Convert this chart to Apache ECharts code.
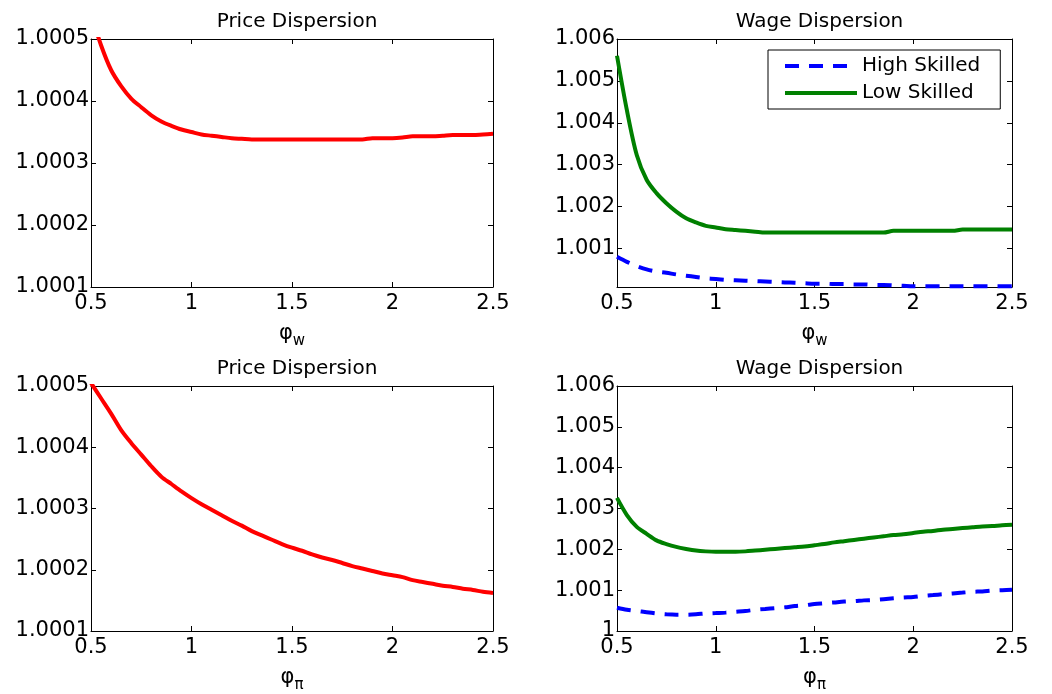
<!DOCTYPE html>
<html>
<head>
<meta charset="utf-8">
<script src="https://cdn.jsdelivr.net/npm/echarts@6/dist/echarts.min.js"></script>
<style>
html,body{margin:0;padding:0;background:#fff}
#main{width:1052px;height:694px}
</style>
</head>
<body>
<div id="main"></div>
<script>
var phi = [0.5,0.55,0.6,0.65,0.7,0.75,0.8,0.85,0.9,0.95,1,1.05,1.1,1.15,1.2,1.25,1.3,1.35,1.4,1.45,1.5,
	1.55,1.6,1.65,1.7,1.75,1.8,1.85,1.9,1.95,2,2.05,2.1,2.15,2.2,2.25,2.3,2.35,2.4,2.45,2.5];

// top row: against phi_w
var pricePhiW = [1.000540,1.000490,1.000450,1.000424,1.000404,1.000390,1.000377,1.000367,1.000360,1.000354,
	1.000350,1.000346,1.000344,1.000342,1.000340,1.000339,1.000338,1.000338,1.000338,1.000338,1.000338,
	1.000338,1.000338,1.000338,1.000338,1.000338,1.000338,1.000338,1.000340,1.000340,1.000340,1.000341,
	1.000343,1.000343,1.000343,1.000344,1.000345,1.000345,1.000345,1.000346,1.000347];
var highPhiW = [1.00080,1.00068,1.00058,1.00050,1.00045,1.00042,1.00038,1.00035,1.00032,1.00029,
	1.00027,1.00025,1.00024,1.00023,1.00022,1.00021,1.00020,1.00019,1.00018,1.00017,1.00016,
	1.00016,1.00015,1.00015,1.00014,1.00014,1.00013,1.00013,1.00012,1.00011,1.00010,1.00010,
	1.00010,1.00010,1.00010,1.00010,1.00010,1.00010,1.00010,1.00010,1.00010];
var lowPhiW = [1.00560,1.00430,1.00323,1.00264,1.00232,1.00208,1.00188,1.00172,1.00162,1.00154,
	1.00150,1.00146,1.00144,1.00142,1.00140,1.00138,1.00138,1.00138,1.00138,1.00138,1.00138,
	1.00138,1.00138,1.00138,1.00138,1.00138,1.00138,1.00138,1.00142,1.00142,1.00142,1.00142,
	1.00142,1.00142,1.00142,1.00145,1.00145,1.00145,1.00145,1.00145,1.00145];

// bottom row: against phi_pi
var pricePhiPi = [1.000505,1.000480,1.000455,1.000428,1.000407,1.000388,1.000369,1.000352,1.000340,1.000328,
	1.000317,1.000307,1.000298,1.000289,1.000280,1.000272,1.000263,1.000256,1.000249,1.000242,1.000236,
	1.000231,1.000225,1.000220,1.000216,1.000211,1.000206,1.000202,1.000198,1.000194,1.000191,1.000188,
	1.000183,1.000180,1.000177,1.000174,1.000172,1.000169,1.000167,1.000164,1.000162];
var highPhiPi = [1.00057,1.00052,1.00049,1.00046,1.00043,1.00041,1.00040,1.00040,1.00041,1.00043,
	1.00044,1.00045,1.00047,1.00049,1.00052,1.00054,1.00056,1.00058,1.00061,1.00063,1.00066,
	1.00068,1.00070,1.00072,1.00073,1.00075,1.00076,1.00078,1.00080,1.00082,1.00083,1.00086,
	1.00088,1.00090,1.00092,1.00094,1.00096,1.00097,1.00099,1.00100,1.00101];
var lowPhiPi = [1.00326,1.00284,1.00255,1.00238,1.00222,1.00213,1.00206,1.00201,1.00197,1.00195,
	1.00194,1.00194,1.00194,1.00195,1.00197,1.00199,1.00201,1.00203,1.00205,1.00207,1.00210,
	1.00213,1.00217,1.00220,1.00223,1.00226,1.00229,1.00232,1.00235,1.00237,1.00240,1.00243,
	1.00245,1.00248,1.00250,1.00252,1.00254,1.00256,1.00257,1.00259,1.00260];

var priceTicks = [1.0001,1.0002,1.0003,1.0004,1.0005];
var wageTicksTop = [1.001,1.002,1.003,1.004,1.005,1.006];
var wageTicksBottom = [1,1.001,1.002,1.003,1.004,1.005,1.006];

var font = 'DejaVu Sans';
var grids = [], xAxes = [], yAxes = [], titles = [], series = [];

function pairs(ys){
	return phi.map(function(x, i){ return [x, ys[i]]; });
}

function priceLabel(v){ return v.toFixed(4); }
function wageLabel(v){ return Math.abs(v - 1) < 1e-9 ? '1' : v.toFixed(3); }

function panel(i, left, top, width, height, title, yMin, yMax, yTicks, yFmt, sub){
	grids.push({left: left, top: top, width: width, height: height});
	titles.push({
		text: title, left: left + width / 2, top: top - 32, textAlign: 'center',
		textStyle: {fontFamily: font, fontSize: 20, fontWeight: 'normal', color: '#000'}
	});
	var line = {show: true, onZero: false, lineStyle: {color: '#000', width: 1}};
	var tick = {show: true, inside: true, length: 5, lineStyle: {color: '#000'}};
	xAxes.push({
		type: 'value', gridIndex: i, position: 'bottom', min: 0.5, max: 2.5, interval: 0.5,
		axisLine: line, axisTick: tick, splitLine: {show: false},
		axisLabel: {fontFamily: font, fontSize: 21, color: '#000', margin: 6},
		name: '{a|φ}{b|' + sub + '}', nameLocation: 'middle', nameGap: 32,
		nameTextStyle: {rich: {
			a: {fontFamily: font, fontSize: 21, lineHeight: 30, color: '#000'},
			b: {fontFamily: font, fontSize: 15, lineHeight: 14, verticalAlign: 'bottom', color: '#000'}
		}}
	});
	xAxes.push({
		type: 'value', gridIndex: i, position: 'top', min: 0.5, max: 2.5, interval: 0.5,
		axisLine: line, axisTick: tick, axisLabel: {show: false}, splitLine: {show: false}
	});
	yAxes.push({
		type: 'value', gridIndex: i, position: 'left', min: yMin, max: yMax,
		axisLine: line, splitLine: {show: false},
		axisTick: {show: true, inside: true, length: 5, lineStyle: {color: '#000'}, customValues: yTicks},
		axisLabel: {fontFamily: font, fontSize: 21, color: '#000', margin: 2, customValues: yTicks, formatter: yFmt}
	});
	yAxes.push({
		type: 'value', gridIndex: i, position: 'right', min: yMin, max: yMax,
		axisLine: line, splitLine: {show: false}, axisLabel: {show: false},
		axisTick: {show: true, inside: true, length: 5, lineStyle: {color: '#000'}, customValues: yTicks}
	});
}

function curve(i, name, ys, color, dashed){
	series.push({
		name: name, type: 'line', xAxisIndex: 2 * i, yAxisIndex: 2 * i,
		data: pairs(ys), symbol: 'none', showSymbol: false, clip: true,
		smooth: 0.3,
		lineStyle: {color: color, width: 4, type: dashed ? [14, 10] : 'solid'},
		itemStyle: {color: color}
	});
}

panel(0, 91, 39, 402, 248, 'Price Dispersion', 1.0001, 1.0005, priceTicks, priceLabel, 'w');
panel(1, 617, 39, 395, 248, 'Wage Dispersion', 1.00008, 1.006, wageTicksTop, wageLabel, 'w');
panel(2, 91, 386, 402, 247, 'Price Dispersion', 1.0001, 1.0005, priceTicks, priceLabel, 'π');
panel(3, 617, 386, 395, 247, 'Wage Dispersion', 1, 1.006, wageTicksBottom, wageLabel, 'π');

curve(0, 'Price', pricePhiW, '#ff0000', false);
curve(1, 'High Skilled', highPhiW, '#0000ff', true);
curve(1, 'Low Skilled', lowPhiW, '#008000', false);
curve(2, 'Price', pricePhiPi, '#ff0000', false);
curve(3, 'High Skilled', highPhiPi, '#0000ff', true);
curve(3, 'Low Skilled', lowPhiPi, '#008000', false);

var chart = echarts.init(document.getElementById('main'));
chart.setOption({
	animation: false,
	backgroundColor: '#fff',
	title: titles,
	grid: grids,
	xAxis: xAxes,
	yAxis: yAxes,
	legend: {
		data: ['High Skilled', 'Low Skilled'],
		orient: 'vertical', left: 768, top: 50,
		padding: [6, 20, 6, 15], itemWidth: 72, itemHeight: 14, itemGap: 7,
		borderColor: '#000', borderWidth: 1, backgroundColor: '#fff',
		lineStyle: {width: 4},
		itemStyle: {opacity: 0},
		textStyle: {fontFamily: font, fontSize: 20, color: '#000'}
	},
	series: series
});
</script>
</body>
</html>
